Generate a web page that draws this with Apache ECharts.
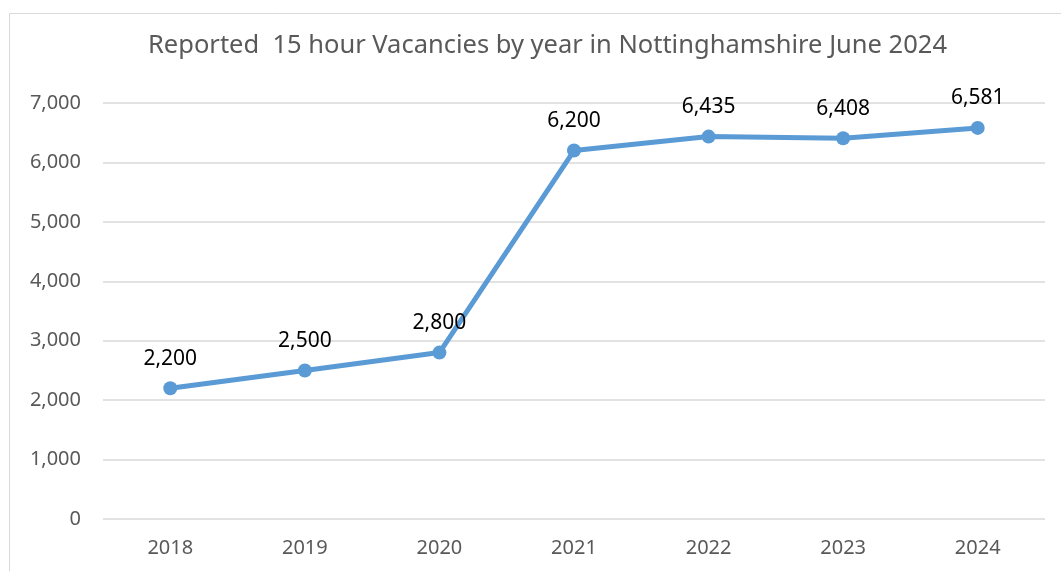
<!DOCTYPE html>
<html>
<head>
<meta charset="utf-8">
<script src="https://cdn.jsdelivr.net/npm/echarts@6/dist/echarts.min.js"></script>
<style>
  html, body { margin: 0; padding: 0; background: #fff; }
  #chart { width: 1061px; height: 571px; }
</style>
</head>
<body>
<div id="chart"></div>
<script>
const years = ['2018', '2019', '2020', '2021', '2022', '2023', '2024']
const vacancies = [2200, 2500, 2800, 6200, 6435, 6408, 6581]
const titleText = 'Reported  15 hour Vacancies by year in Nottinghamshire June 2024'

const chart = echarts.init(document.getElementById('chart'))
const fontFamily = '"Noto Sans", "Open Sans", sans-serif'

const option = {
    animation: false,
    graphic: [{
        type: 'rect',
        shape: {x: 9.5, y: 13.5, width: 1100, height: 600},
        style: {fill: 'none', stroke: '#d9d9d9', lineWidth: 1},
        silent: true
    }],
    title: {
        text: titleText,
        left: 143,
        top: 28,
        textStyle: {
            color: '#595959',
            fontSize: 25.5,
            fontWeight: 'normal',
            fontFamily: fontFamily
        }
    },
    grid: {
        left: 103,
        right: 16,
        top: 103,
        bottom: 52,
        containLabel: false
    },
    xAxis: {
        type: 'category',
        data: years,
        boundaryGap: true,
        axisLine: {show: false},
        axisTick: {show: false},
        axisLabel: {
            color: '#595959',
            fontSize: 20,
            fontFamily: fontFamily,
            margin: 19
        }
    },
    yAxis: {
        type: 'value',
        min: 0,
        max: 7000,
        interval: 1000,
        axisLine: {show: false},
        axisTick: {show: false},
        splitLine: {lineStyle: {color: '#d9d9d9', width: 1.5}},
        axisLabel: {
            color: '#595959',
            fontSize: 20,
            fontFamily: fontFamily,
            margin: 22,
            formatter: (v) => v.toLocaleString('en-US')
        }
    },
    series: [{
        type: 'line',
        data: vacancies,
        symbol: 'circle',
        symbolSize: 14,
        lineStyle: {color: '#5b9bd5', width: 5},
        itemStyle: {color: '#5b9bd5'},
        label: {
            show: true,
            position: 'top',
            distance: 12,
            color: '#000',
            fontSize: 21,
            fontFamily: fontFamily,
            formatter: (p) => p.value.toLocaleString('en-US')
        }
    }]
}

chart.setOption(option)
</script>
</body>
</html>
